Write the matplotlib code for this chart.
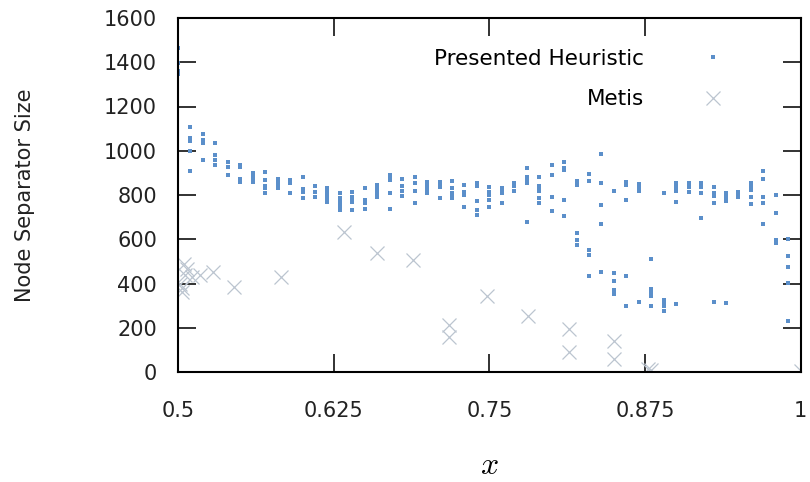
import numpy as np
import matplotlib
matplotlib.use("Agg")
import matplotlib.pyplot as plt

# ---- data ----
heur_x = [0.50, 0.51, 0.52, 0.53, 0.54, 0.55, 0.56, 0.57, 0.58, 0.59,
          0.60, 0.61, 0.62, 0.63, 0.64, 0.65, 0.66, 0.67, 0.68, 0.69,
          0.70, 0.71, 0.72, 0.73, 0.74, 0.75, 0.76, 0.77, 0.78, 0.79,
          0.80, 0.81, 0.82, 0.83, 0.84, 0.85, 0.86, 0.87, 0.88, 0.89,
          0.90, 0.91, 0.92, 0.93, 0.94, 0.95, 0.96, 0.97, 0.98, 0.99]
heur_vals = [
    [1466, 1395, 1362, 1348],
    [1109, 1059, 1044, 1000, 910],
    [1074, 1049, 1034, 960],
    [1035, 979, 958, 934],
    [949, 928, 890],
    [935, 928, 871, 860],
    [898, 883, 870, 860],
    [905, 868, 842, 830, 810],
    [871, 863, 845, 830],
    [868, 860, 853, 810],
    [880, 825, 815, 785],
    [842, 815, 790],
    [830, 815, 800, 785, 770],
    [810, 788, 770, 750, 732],
    [815, 793, 780, 770, 732],
    [830, 777, 762, 735],
    [845, 825, 810, 792],
    [890, 875, 868, 810, 736],
    [871, 840, 820, 795],
    [880, 853, 818, 765],
    [860, 840, 825, 808],
    [860, 850, 838, 785],
    [863, 830, 810, 795, 785],
    [845, 815, 800, 744],
    [853, 840, 774, 732, 710],
    [838, 815, 800, 777, 744],
    [830, 820, 810, 762],
    [855, 840, 820],
    [923, 883, 868, 853, 680],
    [883, 840, 830, 820, 788, 765],
    [935, 892, 792, 728],
    [948, 923, 913, 779, 705],
    [865, 845, 627, 597, 575],
    [896, 862, 551, 529, 432],
    [984, 853, 753, 670, 453],
    [818, 446, 411, 370, 351],
    [860, 845, 779, 432, 297],
    [850, 835, 818, 315],
    [509, 375, 360, 345, 298],
    [810, 325, 312, 298, 275],
    [855, 835, 818, 767, 306],
    [853, 835, 815],
    [853, 835, 808, 697],
    [836, 808, 795, 762, 318],
    [808, 790, 775, 310],
    [815, 800, 790],
    [853, 840, 822, 792, 760],
    [910, 871, 792, 762, 667],
    [800, 717, 597, 582],
    [601, 524, 476, 401, 232],
]

metis_x = [0.502, 0.503, 0.503, 0.505, 0.507, 0.506, 0.511, 0.518, 0.528,
           0.545, 0.583, 0.633, 0.660, 0.689, 0.718, 0.718, 0.748, 0.781,
           0.814, 0.814, 0.850, 0.850, 0.877, 0.880, 1.0]
metis_y = [400, 378, 363, 490, 466, 438, 430, 438, 452,
           386, 428, 634, 539, 506, 212, 160, 345, 255,
           194, 92, 141, 57, 15, 10, 5]

x_ticks = [0.5, 0.625, 0.75, 0.875, 1.0]
x_ticklabels = ["0.5", "0.625", "0.75", "0.875", "1"]
y_ticks = [0, 200, 400, 600, 800, 1000, 1200, 1400, 1600]

# ---- plot ----
plt.rcParams['font.family'] = ['DejaVu Sans']
plt.rcParams['mathtext.fontset'] = 'cm'

fig = plt.figure(figsize=(8.10, 4.82), dpi=100)
ax = fig.add_axes([178/810, 1-372/482, 622.7/810, 354/482])

hx = np.concatenate([[x]*len(v) for x, v in zip(heur_x, heur_vals)])
hy = np.concatenate([np.asarray(v, float) for v in heur_vals])

ax.plot(hx, hy, linestyle='none', marker='s', markersize=3.2,
        color='#5b8fca', markeredgewidth=0, label='Presented Heuristic')
ax.plot(metis_x, metis_y, linestyle='none', marker='x', markersize=9.5,
        markeredgewidth=0.9, color='#bcc5d0', label='Metis')

ax.set_xlim(0.5, 1.0)
ax.set_ylim(0, 1600)
ax.set_xticks(x_ticks)
ax.set_xticklabels(x_ticklabels)
ax.set_yticks(y_ticks)

ax.tick_params(direction='in', length=13, width=1.3, top=True, right=True,
               labelsize=15, colors='#222222', labelcolor='#222222')
ax.tick_params(axis='y', pad=15)
ax.tick_params(axis='x', pad=21)
for s in ax.spines.values():
    s.set_linewidth(1.5)

ax.set_ylabel('Node Separator Size', fontsize=15, labelpad=50, color='#222222')
ax.set_xlabel('$x$', fontsize=23, labelpad=21)

leg = ax.legend(loc='upper right', bbox_to_anchor=(0.893, 0.913),
                markerfirst=False, frameon=False, fontsize=15.5,
                borderpad=0, borderaxespad=0, handletextpad=2.2,
                handlelength=2, labelspacing=0.95, markerscale=1.0)

fig.savefig('out.png', dpi=100)
